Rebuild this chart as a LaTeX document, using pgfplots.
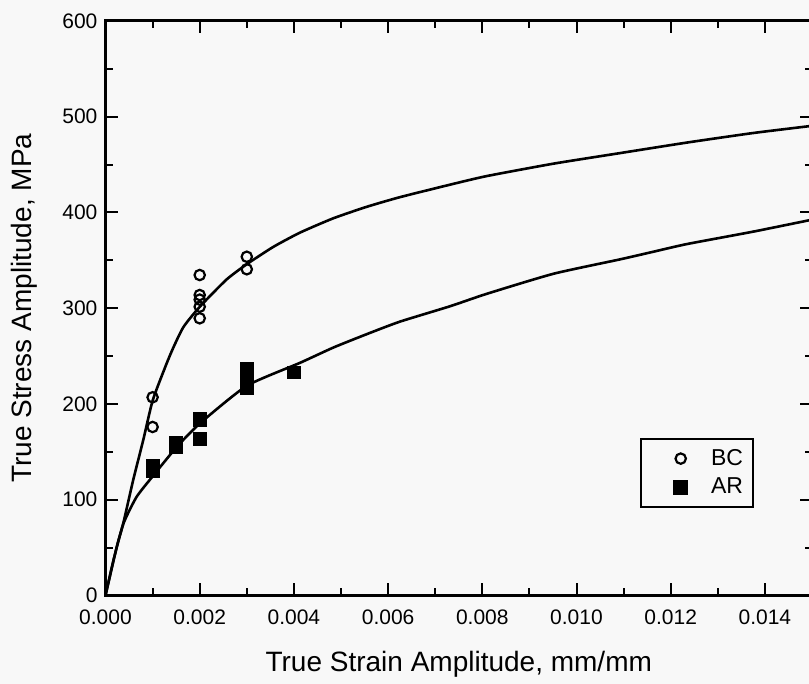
\documentclass[border=0pt]{standalone}
\usepackage{pgfplots}
\pgfplotsset{compat=1.18}
\usepackage{fontspec}
\setmainfont{Liberation Sans}
\definecolor{bg}{RGB}{248,248,248}
\begin{document}
\begin{tikzpicture}
\fill[bg] (-52.75pt,-44.25pt) rectangle (351.75pt,297.75pt);
\begin{axis}[
  name=main,
  at={(0pt,0pt)}, anchor=south west,
  scale only axis,
  width=353.25pt, height=287.25pt,
  xmin=0, xmax=0.015, ymin=0, ymax=600,
  xtick={0,0.002,0.004,0.006,0.008,0.010,0.012,0.014},
  ytick={0,100,200,300,400,500,600},
  minor x tick num=1, minor y tick num=1,
  tick align=inside,
  major tick length=6pt, minor tick length=3.5pt,
  every tick/.style={line width=1pt, black},
  axis line style={line width=1.5pt},
  scaled x ticks=false,
  xticklabel style={yshift=-3.5pt, /pgf/number format/.cd, fixed, fixed zerofill, precision=3},
  yticklabel style={xshift=-0.5pt},
  /pgf/number format/assume math mode=true,
  tick label style={font=\fontsize{10.5}{12}\selectfont},
  label style={font=\fontsize{14}{16}\selectfont},
  xlabel={True Strain Amplitude, mm/mm},
  ylabel={True Stress Amplitude, MPa},
  xlabel style={at={(axis description cs:0.5,0)}, anchor=base, yshift=-38.25pt},
  ylabel style={at={(axis description cs:0,0.5)}, anchor=center, yshift=40.75pt},
  legend style={at={(axis description cs:0.918,0.274)}, anchor=north east,
    draw=black, line width=1pt, fill=bg, font=\fontsize{11.5}{13}\selectfont,
    inner xsep=3pt, inner ysep=3pt, row sep=1pt},
  legend cell align=left,
  legend image code/.code={%
    \path[draw=none, fill=none] (-8.5pt,0pt) -- (0.3cm,0pt);
    \draw[#1, only marks] plot coordinates {(0.3cm,0cm)};},
]
\addplot[only marks, mark=o, mark size=2.6pt, line width=1.1pt, black]
  coordinates {(0.001,207) (0.001,176) (0.002,334.7) (0.002,313.8) (0.002,309) (0.002,301.6) (0.002,289.5) (0.003,353.8) (0.003,340.7)};
\addlegendentry{\hspace{10pt}BC}
\addplot[only marks, mark=square*, mark size=3.2pt, black]
  coordinates {(0.001,135) (0.001,130) (0.0015,159) (0.0015,155) (0.002,185) (0.002,183) (0.002,163.5) (0.003,236.5) (0.003,231) (0.003,217) (0.004,233)};
\addlegendentry{\hspace{10pt}AR}
\addplot[smooth, tension=0.35, line width=1.3pt, black, forget plot]
  coordinates {(0,0) (0.00024,51) (0.00038,76) (0.00059,121) (0.0008,162) (0.00101,205) (0.00137,251) (0.00165,280) (0.00201,302) (0.00257,330) (0.003,346) (0.00356,364) (0.00413,379) (0.00484,394) (0.00555,406) (0.00625,416) (0.00731,429) (0.00809,438) (0.00951,451) (0.01092,462) (0.01234,473) (0.01375,483) (0.015,490.5)};
\addplot[smooth, tension=0.35, line width=1.3pt, black, forget plot]
  coordinates {(0,0) (0.00017,37) (0.00038,75) (0.00066,103) (0.00101,125) (0.00151,155) (0.00201,180) (0.003,219) (0.00413,243) (0.00484,259) (0.00555,273) (0.00625,286) (0.00731,302) (0.00809,315) (0.00951,336) (0.01092,351) (0.01163,359) (0.01234,367) (0.01375,380) (0.015,392.5)};
\end{axis}
\pgfresetboundingbox
\path[use as bounding box] (-52.75pt,-44.25pt) rectangle (351.75pt,297.75pt);
\end{tikzpicture}
\end{document}
